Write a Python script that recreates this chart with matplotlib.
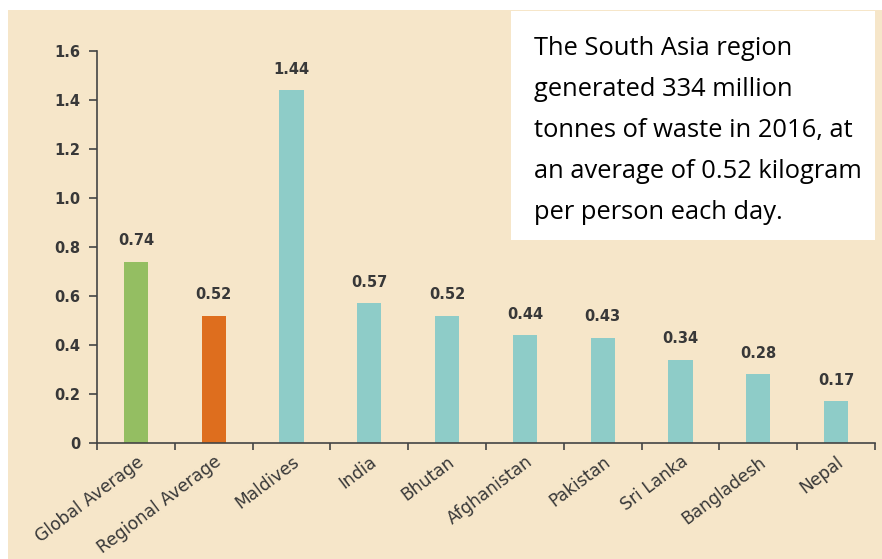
import matplotlib.pyplot as plt
from matplotlib.patches import Rectangle
import numpy as np

# Waste generation, kg per person per day (2016)
categories = ["Global Average", "Regional Average", "Maldives", "India", "Bhutan",
              "Afghanistan", "Pakistan", "Sri Lanka", "Bangladesh", "Nepal"]
values = [0.74, 0.52, 1.44, 0.57, 0.52, 0.44, 0.43, 0.34, 0.28, 0.17]
value_labels = ["0.74", "0.52", "1.44", "0.57", "0.52", "0.44", "0.43", "0.34", "0.28", "0.17"]
colors = ["#94be62", "#de6e1e"] + ["#8eccc8"] * 8

bg = "#f6e6c9"
txt = "#383838"
plt.rcParams["font.family"] = ["DejaVu Sans"]

fig = plt.figure(figsize=(8.82, 5.59), dpi=100)
fig.patches.append(Rectangle((8 / 882, 0), 874 / 882, 1 - 10 / 559,
                             transform=fig.transFigure, facecolor=bg,
                             edgecolor="none", zorder=-10))

ax = fig.add_axes([97 / 882, 1 - 443 / 559, 778 / 882, 392 / 559])
ax.set_facecolor("none")

x = np.arange(len(categories))
ax.bar(x, values, width=0.31, color=colors, zorder=2)
for xi, v, lab in zip(x, values, value_labels):
    ax.text(xi, v + 0.055, lab, ha="center", va="bottom", fontsize=10.5,
            color=txt, fontweight="bold")

ax.set_xlim(-0.5, len(categories) - 0.5)
ax.set_ylim(0, 1.6)
ax.set_yticks(np.arange(0, 1.61, 0.2))
ax.set_yticklabels(["0"] + [f"{t:.1f}" for t in np.arange(0.2, 1.61, 0.2)],
                   fontweight="bold")

# ticks sit between the categories, labels under the bars
ax.set_xticks(np.arange(-0.5, len(categories), 1.0))
ax.set_xticklabels([])
ax.set_xticks(x, minor=True)
ax.set_xticklabels(categories, minor=True, rotation=37, ha="right",
                   rotation_mode="anchor", fontsize=12.3, color=txt)
ax.tick_params(axis="x", which="minor", length=0, pad=7)
ax.tick_params(axis="x", which="major", length=5, width=1.2, color="#444444")
ax.tick_params(axis="y", length=6, width=1.2, color="#444444",
               labelsize=10.5, labelcolor=txt, pad=6)

for side in ["top", "right"]:
    ax.spines[side].set_visible(False)
for side in ["left", "bottom"]:
    ax.spines[side].set_color("#444444")
    ax.spines[side].set_linewidth(1.2)

# summary note in the top-right corner
fig.patches.append(Rectangle((511 / 882, 1 - 240 / 559), 364 / 882, 229 / 559,
                             transform=fig.transFigure, facecolor="white",
                             edgecolor="none", zorder=5))
note = ("The South Asia region\ngenerated 334 million\ntonnes of waste in 2016, at\n"
        "an average of 0.52 kilogram\nper person each day.")
fig.text(534 / 882, 1 - 36 / 559, note, ha="left", va="top", fontsize=18.4,
         family=["Open Sans", "DejaVu Sans"], color="black", linespacing=1.84,
         zorder=6)

fig.savefig("out.png", dpi=100)
